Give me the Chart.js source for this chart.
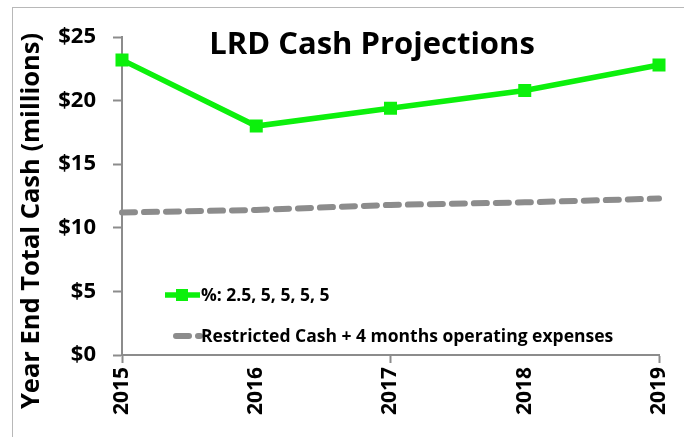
<!DOCTYPE html>
<html>
<head>
<meta charset="utf-8">
<script src="https://cdn.jsdelivr.net/npm/chart.js@4/dist/chart.umd.min.js"></script>
<style>
  html, body { margin: 0; padding: 0; background: #fff; }
  #wrap { position: relative; width: 684px; height: 437px; }
  #frame { position: absolute; left: 12px; top: 7px; width: 672px; height: 430px;
           border-top: 1px solid #b8b8b8; border-left: 1px solid #b8b8b8; box-sizing: border-box; }
  canvas { position: absolute; left: 0; top: 0; }
</style>
</head>
<body>
<div id="wrap">
  <div id="frame"></div>
  <canvas id="c" width="684" height="437"></canvas>
</div>
<script>
const years = ['2015', '2016', '2017', '2018', '2019'];
const projectedCash = [23.2, 18.0, 19.4, 20.8, 22.8];
const restrictedCash = [11.2, 11.4, 11.8, 12.0, 12.3];
const yTicks = [0, 5, 10, 15, 20, 25];
const chartTitle = 'LRD Cash Projections';
const yAxisTitle = 'Year End Total Cash (millions)';
const seriesNames = ['%: 2.5, 5, 5, 5, 5', 'Restricted Cash + 4 months operating expenses'];

const FONT = '"Open Sans", Lato, sans-serif';
const GREEN = '#0cf00c';
const GRAY = '#8c8c8c';
const AXIS = '#8c8c8c';

const overlay = {
  id: 'overlay',
  afterDraw(chart) {
    const ctx = chart.ctx;
    ctx.save();
    ctx.fillStyle = '#000';
    ctx.textBaseline = 'middle';
    // title
    ctx.font = 'bold 31px ' + FONT;
    ctx.textAlign = 'center';
    ctx.fillText(chartTitle, 372, 45);
    // y axis title
    ctx.save();
    ctx.translate(32, 221);
    ctx.rotate(-Math.PI / 2);
    ctx.font = 'bold 25.5px ' + FONT;
    ctx.fillText(yAxisTitle, 0, 0);
    ctx.restore();
    // legend
    const rows = [295, 336];
    ctx.textAlign = 'left';
    ctx.font = 'bold 17.5px ' + FONT;
    chart.data.datasets.forEach((ds, i) => {
      const y = rows[i];
      ctx.strokeStyle = ds.borderColor;
      ctx.lineWidth = ds.borderWidth;
      ctx.setLineDash(ds.borderDash || []);
      ctx.lineCap = ds.borderDash ? 'round' : 'butt';
      ctx.beginPath();
      if (i === 0) { ctx.moveTo(165, y); ctx.lineTo(200, y); }
      else { ctx.moveTo(176, y); ctx.lineTo(200, y); }
      ctx.stroke();
      ctx.setLineDash([]);
      if (ds.pointStyle === 'rect') {
        ctx.fillStyle = ds.backgroundColor;
        ctx.fillRect(182 - 6, y - 6, 12, 12);
      }
      ctx.fillStyle = '#000';
      ctx.fillText(ds.label, 201, y + 1);
    });
    ctx.restore();
  }
};

new Chart(document.getElementById('c'), {
  type: 'line',
  data: {
    labels: years,
    datasets: [
      {
        label: seriesNames[0],
        data: projectedCash,
        borderColor: GREEN,
        backgroundColor: GREEN,
        borderWidth: 5.5,
        pointStyle: 'rect',
        pointRadius: 9.2,
        pointBorderWidth: 0,
        tension: 0
      },
      {
        label: seriesNames[1],
        data: restrictedCash,
        borderColor: GRAY,
        backgroundColor: GRAY,
        borderWidth: 6,
        borderDash: [13, 9],
        borderCapStyle: 'round',
        pointRadius: 0,
        tension: 0
      }
    ]
  },
  options: {
    responsive: false,
    animation: false,
    layout: { padding: { left: 0, top: 37, right: 25, bottom: 0 } },
    plugins: { legend: { display: false }, title: { display: false }, tooltip: { enabled: false } },
    scales: {
      x: {
        offset: false,
        border: { color: AXIS, width: 2 },
        grid: {
          drawOnChartArea: false,
          drawTicks: true,
          tickLength: 8,
          tickWidth: 2,
          tickColor: (c) => (c.index % 2 === 0 ? AXIS : 'rgba(0,0,0,0)')
        },
        ticks: {
          color: '#000',
          font: { family: FONT, size: 21, weight: 'bold' },
          minRotation: 90,
          maxRotation: 90,
          padding: 4
        },
        afterFit: (s) => { s.height = 82; s.paddingRight = 0; s.paddingLeft = 0; }
      },
      y: {
        min: 0,
        max: 25,
        afterBuildTicks: (s) => { s.ticks = yTicks.map(v => ({ value: v })); },
        border: { color: AXIS, width: 2 },
        grid: {
          drawOnChartArea: false,
          drawTicks: true,
          tickLength: 9,
          tickWidth: 2,
          tickColor: AXIS
        },
        ticks: {
          color: '#000',
          font: { family: FONT, size: 22, weight: 'bold' },
          padding: 17,
          callback: (v) => '$' + v
        },
        afterFit: (s) => { s.width = 122; }
      }
    }
  },
  plugins: [overlay]
});
</script>
</body>
</html>
